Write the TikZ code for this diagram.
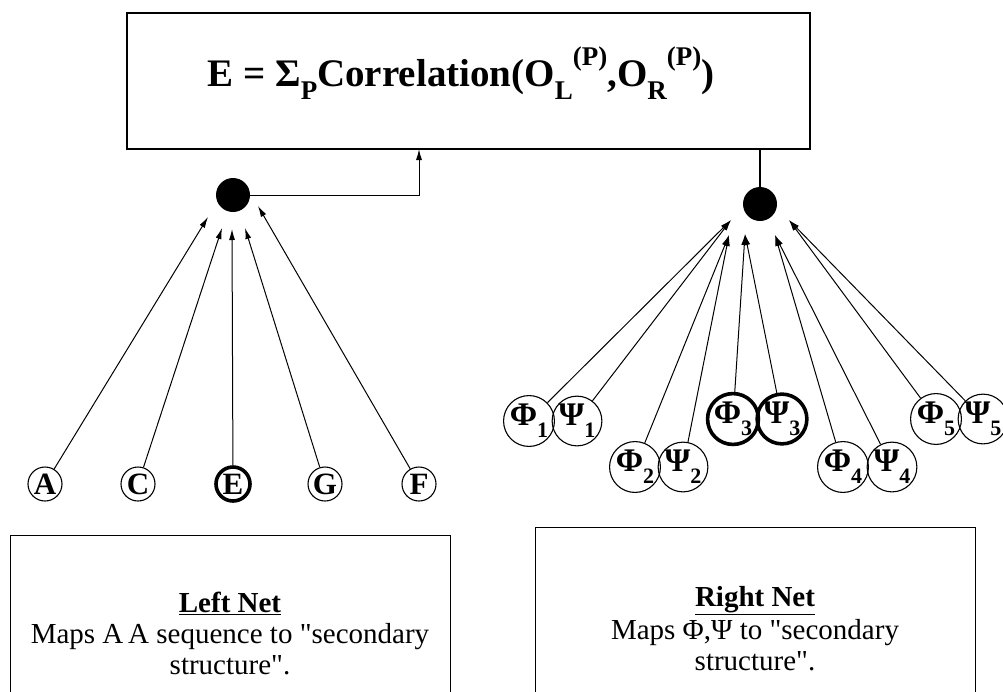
\documentclass[tikz,border=0pt]{standalone}
\usepackage{fontspec}
\setmainfont{Liberation Serif}[Ligatures=TeXOff]
\usetikzlibrary{arrows.meta}
\newcommand{\sbx}[1]{\raisebox{-0.32em}{\fontsize{27}{27}\selectfont #1}}
\newcommand{\spx}[1]{\raisebox{0.55em}{\fontsize{27}{27}\selectfont #1}}
\newcommand{\ang}[2]{\textbf{#1}\raisebox{-0.36em}{\fontsize{22}{22}\selectfont\bfseries #2}}
\begin{document}
\begin{tikzpicture}[x=1pt,y=-1pt,
  thin/.style={line width=1.1pt},
  arr/.style={-{Latex[length=11pt,width=6pt]}, line width=1pt},
  boxstyle/.style={draw, line width=1.1pt, inner sep=0pt},
  inp/.style={circle, draw, line width=1.1pt, minimum size=34pt, inner sep=0pt,
    font=\fontsize{31}{31}\selectfont\bfseries},
  ang/.style={circle, draw, line width=1.1pt, minimum size=46pt, inner sep=0pt,
    font=\fontsize{33}{33}\selectfont},
  hot/.style={line width=3.6pt},
  dot/.style={circle, fill=black, minimum size=34pt, inner sep=0pt},
  txt/.style={align=center, inner sep=0pt, anchor=north,
    font=\fontsize{29}{31}\selectfont}
]
\useasboundingbox (0,0) rectangle (1003,691);

% top box
\node[boxstyle, minimum width=683pt, minimum height=136pt] (boxE) at (468.5,81) {};
\node[inner sep=0pt] (formula) at (461,73)
  {\fontsize{39}{39}\selectfont\bfseries E = Σ\sbx{P}Correlation(O\sbx{L}\spx{(P)},O\sbx{R}\spx{(P)})};

% hidden units
\node[dot] (ldot) at (233,195) {};
\node[dot] (rdot) at (760,204) {};
\coordinate (bx) at (419,149);
\draw[arr] (ldot.east) -| (bx);
\draw[thin] (rdot.north) -- (rdot.north |- boxE.south);

% left inputs
\node[inp] (A) at (45,484) {A};
\node[inp] (C) at (138,484) {C};
\node[inp, hot] (E) at (233,484) {E};
\node[inp] (G) at (325,484) {G};
\node[inp] (F) at (419,484) {F};

\coordinate (tA) at (208,217);
\coordinate (tC) at (222,228);
\coordinate (tE) at (232,229);
\coordinate (tG) at (245,228);
\coordinate (tF) at (258,206);
\foreach \n in {A,C,E,G,F} \draw[arr] (\n) -- (t\n);

% right inputs
\node[ang] (p1) at (529,421) {\ang{Φ}{1}};
\node[ang] (s1) at (577,421) {\ang{Ψ}{1}};
\node[ang] (p2) at (635,467) {\ang{Φ}{2}};
\node[ang] (s2) at (683,467) {\ang{Ψ}{2}};
\node[ang, hot] (p3) at (733,419) {\ang{Φ}{3}};
\node[ang, hot] (s3) at (782,419) {\ang{Ψ}{3}};
\node[ang] (p4) at (843,467) {\ang{Φ}{4}};
\node[ang] (s4) at (892,467) {\ang{Ψ}{4}};
\node[ang] (p5) at (936,419) {\ang{Φ}{5}};
\node[ang] (s5) at (983,419) {\ang{Ψ}{5}};

\coordinate (r1) at (731,220);
\coordinate (r2) at (729,235);
\coordinate (r3) at (745,234);
\coordinate (r4) at (775,235);
\coordinate (r5) at (789,220);
\foreach \i in {1,...,5} {
  \draw[arr] (p\i) -- (r\i);
  \draw[arr] (s\i) -- (r\i);
}

% bottom boxes
\node[boxstyle, anchor=north west, minimum width=440pt, minimum height=200pt] (leftbox) at (10,535) {};
\node[boxstyle, anchor=north west, minimum width=440pt, minimum height=200pt] (rightbox) at (535,527) {};
\node[txt] (lefttext) at (230,592)
  {\underline{\textbf{Left Net}}\\Maps A\,A sequence to "secondary\\structure".};
\node[txt] (righttext) at (755,586)
  {\underline{\textbf{Right Net}}\\[2pt]Maps Φ,Ψ to "secondary\\structure".};
\end{tikzpicture}
\end{document}
